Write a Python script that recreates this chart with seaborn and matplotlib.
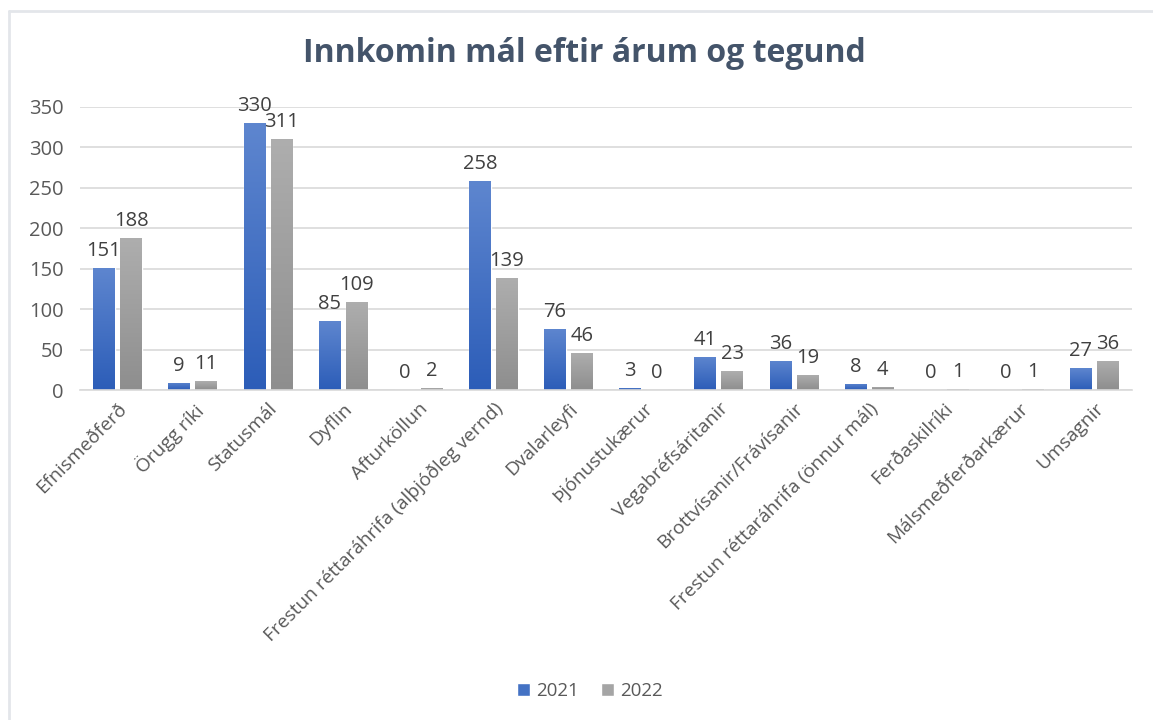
import numpy as np
import pandas as pd
import matplotlib
matplotlib.use("Agg")
import matplotlib.pyplot as plt
import seaborn as sns
from matplotlib.colors import LinearSegmentedColormap

categories = ["Efnismeðferð", "Örugg ríki", "Statusmál", "Dyflin", "Afturköllun",
              "Frestun réttaráhrifa (alþjóðleg vernd)", "Dvalarleyfi", "Þjónustukærur",
              "Vegabréfsáritanir", "Brottvísanir/Frávísanir", "Frestun réttaráhrifa (önnur mál)",
              "Ferðaskilríki", "Málsmeðferðarkærur", "Umsagnir"]
values_2021 = [151, 9, 330, 85, 0, 258, 76, 3, 41, 36, 8, 0, 0, 27]
values_2022 = [188, 11, 311, 109, 2, 139, 46, 0, 23, 19, 4, 1, 1, 36]
years = ["2021", "2022"]
y_ticks = [0, 50, 100, 150, 200, 250, 300, 350]

df = pd.DataFrame({
    "cat": categories * 2,
    "year": [years[0]] * len(categories) + [years[1]] * len(categories),
    "val": values_2021 + values_2022,
})

sns.set_theme(style="white")
plt.rcParams['font.family'] = ['Open Sans', 'DejaVu Sans']

W, H = 1153, 720
fig = plt.figure(figsize=(W / 100, H / 100), dpi=100)
ax = fig.add_axes([80 / W, 1 - 390 / H, (1132 - 80) / W, (390 - 107) / H])

blue = "#4472C4"
gray = "#A5A5A5"
sns.barplot(data=df, x="cat", y="val", hue="year", palette=[blue, gray],
            width=0.72, gap=0.2, ax=ax, legend=True, saturation=1)

text_col = "#595959"
ax.set_ylim(0, 350)
ax.set_xlim(-0.5, len(categories) - 0.5)
ax.set_yticks(y_ticks)
ax.set_yticklabels([str(t) for t in y_ticks], fontsize=14.5, color=text_col)
ax.tick_params(axis="y", length=0, pad=12)
ax.tick_params(axis="x", length=0, pad=7)
ax.set_xticks(range(len(categories)))
ax.set_xticklabels(categories, rotation=45, ha="right", va="top",
                   rotation_mode="anchor", fontsize=13.8, color=text_col)
ax.set_xlabel("")
ax.set_ylabel("")
ax.grid(axis="y", color="#D9D9D9", linewidth=1.2)
ax.set_axisbelow(True)
for s in ["left", "right", "top"]:
    ax.spines[s].set_visible(False)
ax.spines["bottom"].set_color("#D9D9D9")
ax.spines["bottom"].set_linewidth(1.2)

# gradient fills clipped to the bars
cmaps = {
    0: LinearSegmentedColormap.from_list("b", ["#2C5DB8", "#5E86CF"]),
    1: LinearSegmentedColormap.from_list("g", ["#8E8E8E", "#AEAEAE"]),
}
grad = np.linspace(0, 1, 256).reshape(-1, 1)
for ci, cont in enumerate(ax.containers):
    for patch in cont.patches:
        x0, y0 = patch.get_x(), patch.get_y()
        w, h = patch.get_width(), patch.get_height()
        if h <= 0:
            continue
        im = ax.imshow(grad, cmap=cmaps[ci], origin="lower", aspect="auto",
                       extent=[x0, x0 + w, y0, y0 + h], zorder=patch.get_zorder() + 0.1)
        im.set_clip_path(patch)
    ax.bar_label(cont, labels=[str(int(v)) for v in cont.datavalues],
                 padding=5, fontsize=14.5, color="#404040")
ax.set_xlim(-0.5, len(categories) - 0.5)
ax.set_ylim(0, 350)

handles, labels = ax.get_legend_handles_labels()
ax.legend(handles, labels, loc="center", bbox_to_anchor=(590 / W, 1 - 691 / H),
          bbox_transform=fig.transFigure, ncol=2, frameon=False, fontsize=13.5,
          handlelength=0.7, handleheight=0.7, handletextpad=0.3, columnspacing=1.2,
          labelcolor=text_col)

fig.text(584 / W, 1 - 53 / H, "Innkomin mál eftir árum og tegund", ha="center", va="center",
         fontsize=23, fontweight="bold", color="#44546A")

# chart border
fig.add_artist(plt.Line2D([9 / W, 9 / W], [0, 1 - 11 / H], transform=fig.transFigure,
                          color="#E3E6EA", linewidth=2))
fig.add_artist(plt.Line2D([9 / W, 1], [1 - 11 / H, 1 - 11 / H], transform=fig.transFigure,
                          color="#E3E6EA", linewidth=2))

fig.savefig("out.png", dpi=100, facecolor="white")
